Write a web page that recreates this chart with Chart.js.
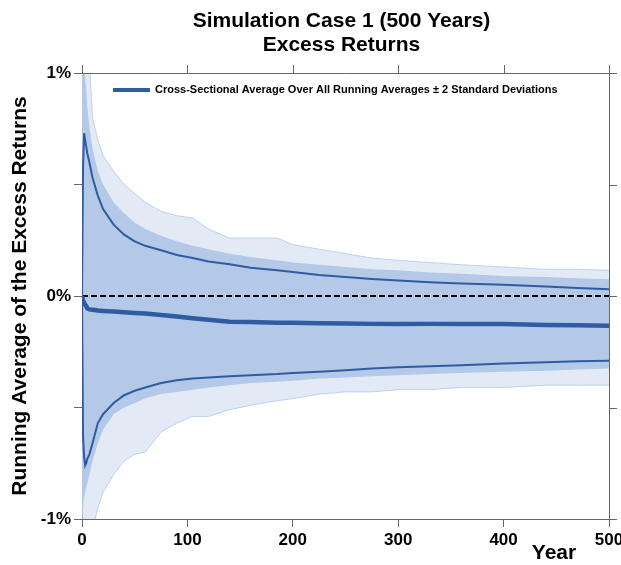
<!DOCTYPE html>
<html>
<head>
<meta charset="utf-8">
<script src="https://cdn.jsdelivr.net/npm/chart.js@4.4.1/dist/chart.umd.min.js"></script>
<style>
  body { margin: 0; background: #fff; }
  canvas { display: block; }
</style>
</head>
<body>
<canvas id="myChart" width="621" height="565"></canvas>
<script>
// years
const years = [0, 1, 2, 3, 4, 5, 7, 10, 15, 20, 30, 40, 50, 60, 75, 90, 105, 120, 140, 160, 185, 200, 225, 250, 275, 300, 330, 360, 400, 440, 470, 500]

// cross-sectional average (in %)
const meanAvg = [0, -0.02, -0.03, -0.04, -0.045, -0.055, -0.06, -0.062, -0.065, -0.067,
    -0.07, -0.073, -0.076, -0.078, -0.085, -0.092, -0.1, -0.107, -0.115, -0.117,
    -0.12, -0.12, -0.122, -0.123, -0.125, -0.126, -0.125, -0.125, -0.126, -0.13,
    -0.131, -0.133]
// +2 / -2 standard deviations
const plus2SD = [0, 0.58, 0.73, 0.70, 0.67, 0.64, 0.60, 0.53, 0.45, 0.39,
    0.32, 0.275, 0.245, 0.225, 0.205, 0.184, 0.17, 0.155, 0.142, 0.127,
    0.115, 0.108, 0.094, 0.085, 0.076, 0.069, 0.062, 0.056, 0.05, 0.043,
    0.036, 0.03]
const minus2SD = [0, -0.63, -0.72, -0.76, -0.75, -0.73, -0.71, -0.66, -0.57, -0.53,
    -0.48, -0.445, -0.425, -0.41, -0.39, -0.378, -0.37, -0.365, -0.36, -0.355,
    -0.35, -0.345, -0.34, -0.333, -0.325, -0.32, -0.315, -0.31, -0.303, -0.297,
    -0.293, -0.29]

// band where the individual running averages are packed tight
const denseHi = [1.05, 1.05, 1.05, 0.98, 0.92, 0.85, 0.76, 0.66, 0.56, 0.5,
    0.42, 0.37, 0.33, 0.30, 0.27, 0.245, 0.225, 0.21, 0.19, 0.175,
    0.16, 0.15, 0.14, 0.13, 0.12, 0.115, 0.105, 0.1, 0.09, 0.085,
    0.08, 0.075]
const denseLo = [-1.05, -0.95, -0.9, -0.88, -0.86, -0.84, -0.8, -0.74, -0.66, -0.6,
    -0.53, -0.5, -0.48, -0.46, -0.44, -0.43, -0.42, -0.41, -0.40, -0.39,
    -0.385, -0.38, -0.37, -0.365, -0.36, -0.355, -0.35, -0.345, -0.34, -0.335,
    -0.33, -0.325]
// outermost running averages (the stray paths)
const outerHi = [1.05, 1.05, 1.05, 1.05, 1.05, 1.05, 1.05, 0.8, 0.7, 0.63,
    0.56, 0.5, 0.46, 0.42, 0.38, 0.36, 0.35, 0.3, 0.26, 0.26,
    0.26, 0.23, 0.21, 0.19, 0.17, 0.16, 0.15, 0.14, 0.13, 0.12,
    0.12, 0.115]
const outerLo = [-1.05, -1.05, -1.05, -1.05, -1.05, -1.05, -1.05, -1.05, -0.95, -0.88,
    -0.8, -0.74, -0.71, -0.70, -0.61, -0.57, -0.54, -0.54, -0.51, -0.49,
    -0.47, -0.46, -0.44, -0.43, -0.43, -0.42, -0.42, -0.41, -0.41, -0.40,
    -0.40, -0.40]

const xTicks = [0, 100, 200, 300, 400, 500]
const yTicks = [-1, -0.5, 0, 0.5, 1]
const yTickLabels = ['-1%', '', '0%', '', '1%']

const titleLines = ['Simulation Case 1 (500 Years)', 'Excess Returns']
const yTitle = 'Running Average of the Excess Returns'
const xTitle = 'Year'
const legendText = 'Cross-Sectional Average Over All Running Averages \u00b1 2 Standard Deviations'

const FONT = '"Liberation Sans", Arial, Helvetica, sans-serif'
const darkBlue = '#2f5ba3'
const lightBlue = '#b4c9e7'
const axisGray = '#666666'

const pts = arr => years.map((x, i) => ({ x: x, y: arr[i] }))

// title, legend, "Year" and the top/right frame with outward ticks
const extras = {
    id: 'extras',
    afterDraw(chart) {
        const ctx = chart.ctx
        const a = chart.chartArea
        const xs = chart.scales.x
        const ys = chart.scales.y
        ctx.save()

        // frame
        ctx.strokeStyle = axisGray
        ctx.lineWidth = 1
        ctx.beginPath()
        ctx.moveTo(a.left, a.top + 0.5)
        ctx.lineTo(a.right + 0.5, a.top + 0.5)
        ctx.lineTo(a.right + 0.5, a.bottom)
        xTicks.forEach(v => {
            const px = Math.round(xs.getPixelForValue(v)) + 0.5
            ctx.moveTo(px, a.top)
            ctx.lineTo(px, a.top - 8)
        })
        yTicks.forEach(v => {
            const py = Math.round(ys.getPixelForValue(v)) + 0.5
            ctx.moveTo(a.right, py)
            ctx.lineTo(a.right + 8, py)
        })
        ctx.stroke()

        // title
        ctx.fillStyle = '#000'
        ctx.textAlign = 'center'
        ctx.textBaseline = 'middle'
        ctx.font = 'bold 21px ' + FONT
        const cx = (a.left + a.right) / 2 - 4
        ctx.fillText(titleLines[0], cx, 21)
        ctx.fillText(titleLines[1], cx, 45)

        // x title
        ctx.font = 'bold 21px ' + FONT
        ctx.fillText(xTitle, 554, 553)

        // legend
        const ly = 90
        ctx.strokeStyle = darkBlue
        ctx.lineWidth = 4
        ctx.beginPath()
        ctx.moveTo(113, ly)
        ctx.lineTo(150, ly)
        ctx.stroke()
        ctx.font = 'bold 11px ' + FONT
        ctx.textAlign = 'left'
        ctx.fillText(legendText, 155, ly)
        ctx.restore()
    }
}

const ctx = document.getElementById('myChart').getContext('2d')

const myChart = new Chart(ctx, {
    type: 'line',
    data: {
        datasets: [
            { label: 'Cross-Sectional Average', data: pts(meanAvg), borderColor: darkBlue, borderWidth: 4.5, order: 0 },
            { label: '+2 SD', data: pts(plus2SD), borderColor: darkBlue, borderWidth: 2, order: 1 },
            { label: '-2 SD', data: pts(minus2SD), borderColor: darkBlue, borderWidth: 2, order: 1 },
            { label: 'zero', data: [{ x: 0, y: 0 }, { x: 500, y: 0 }], borderColor: '#000', borderWidth: 2, borderDash: [6, 3], order: 2 },
            { label: 'dense hi', data: pts(denseHi), borderWidth: 0, borderColor: lightBlue, backgroundColor: lightBlue, fill: 5, order: 3 },
            { label: 'dense lo', data: pts(denseLo), borderWidth: 0, borderColor: lightBlue, order: 4 },
            { label: 'outer hi', data: pts(outerHi), borderWidth: 1, borderColor: 'rgba(180,201,231,0.8)', backgroundColor: 'rgba(180,201,231,0.38)', fill: 7, order: 5 },
            { label: 'outer lo', data: pts(outerLo), borderWidth: 1, borderColor: 'rgba(180,201,231,0.8)', order: 6 }
        ]
    },
    options: {
        responsive: false,
        animation: false,
        events: [],
        elements: { point: { radius: 0 }, line: { tension: 0 } },
        layout: { padding: { top: 73, right: 12, left: 0, bottom: 0 } },
        plugins: {
            legend: { display: false },
            title: { display: false },
            tooltip: { enabled: false }
        },
        scales: {
            x: {
                type: 'linear',
                min: 0,
                max: 500,
                afterBuildTicks: s => { s.ticks = xTicks.map(v => ({ value: v })) },
                afterFit: s => { s.height = 46; s.paddingLeft = 0; s.paddingRight = 0 },
                ticks: { color: '#000', padding: 3, font: { family: FONT, size: 17, weight: 'bold' } },
                grid: { drawOnChartArea: false, drawTicks: true, tickLength: 8, color: axisGray },
                border: { display: true, color: axisGray, width: 1 }
            },
            y: {
                min: -1,
                max: 1,
                afterBuildTicks: s => { s.ticks = yTicks.map(v => ({ value: v })) },
                afterFit: s => { s.width = 82; s.paddingTop = 0; s.paddingBottom = 0 },
                ticks: {
                    color: '#000', padding: 3,
                    font: { family: FONT, size: 17, weight: 'bold' },
                    callback: (v) => yTickLabels[yTicks.indexOf(v)]
                },
                grid: { drawOnChartArea: false, drawTicks: true, tickLength: 8, color: axisGray },
                border: { display: true, color: axisGray, width: 1 },
                title: { display: true, text: yTitle, color: '#000', padding: { top: 8, bottom: 0 }, font: { family: FONT, size: 21, weight: 'bold' } }
            }
        }
    },
    plugins: [extras]
})
</script>
</body>
</html>
